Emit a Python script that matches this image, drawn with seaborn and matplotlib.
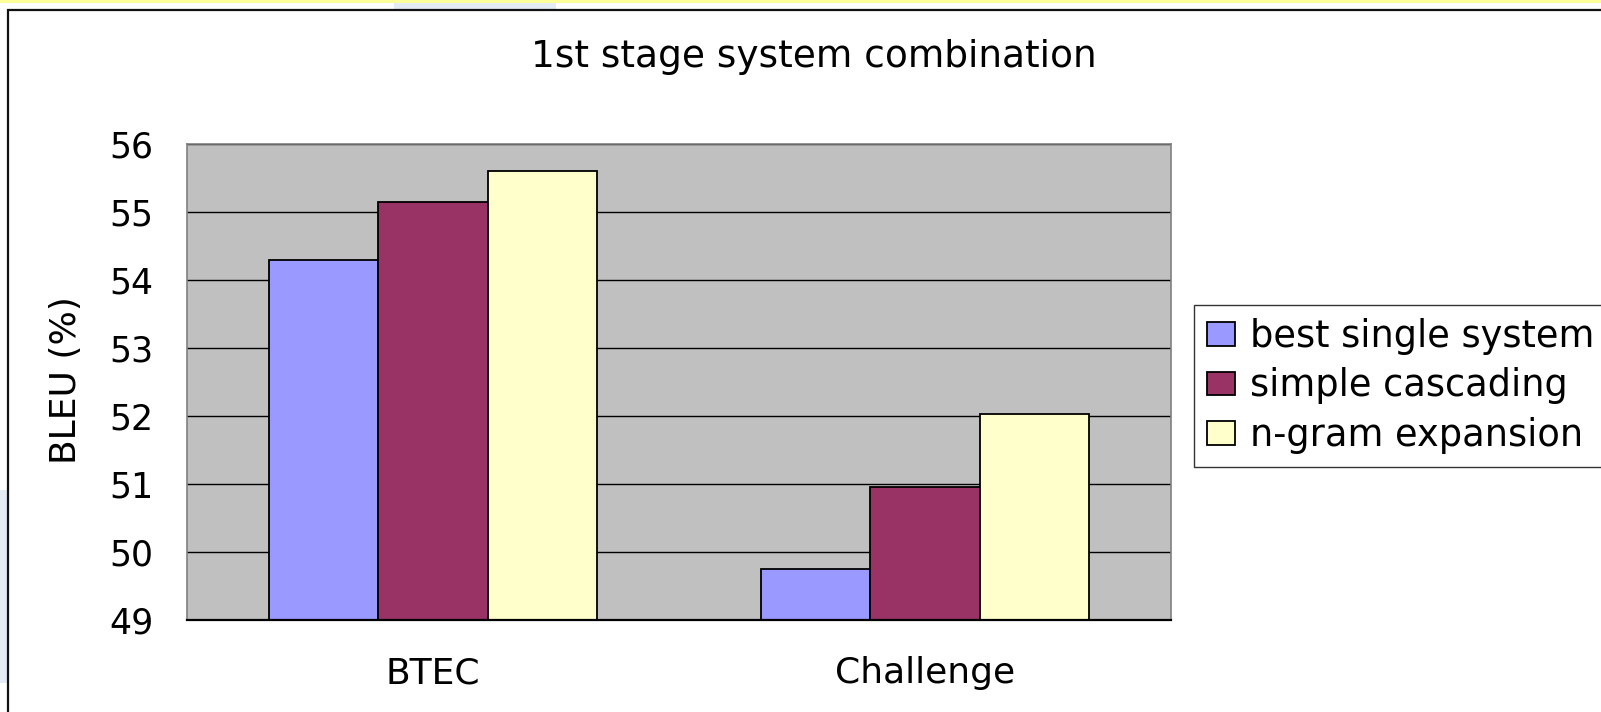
import matplotlib
matplotlib.use("Agg")
import matplotlib.pyplot as plt
import matplotlib.patches as mpatches
import seaborn as sns
import pandas as pd

categories = ["BTEC", "Challenge"]
systems = ["best single system", "simple cascading", "n-gram expansion"]
best_single = [54.3, 49.75]
simple_cascading = [55.15, 50.95]
ngram_expansion = [55.6, 52.03]
colors = ["#9999FF", "#993366", "#FFFFCC"]
title = "1st stage system combination"
ylabel = "BLEU (%)"
yticks = [49, 50, 51, 52, 53, 54, 55, 56]

rows = []
for sys_name, vals in zip(systems, [best_single, simple_cascading, ngram_expansion]):
    for c, v in zip(categories, vals):
        rows.append({"category": c, "system": sys_name, "value": v})
df = pd.DataFrame(rows)

sns.set_theme(style="white")
plt.rcParams["font.family"] = ["DejaVu Sans"]

W, H = 1601, 712
fig = plt.figure(figsize=(W / 100, H / 100), dpi=100)
fig.patch.set_facecolor("white")

# background decorations
fig.patches.append(mpatches.Rectangle((0, 1 - 3 / H), 1, 3 / H, transform=fig.transFigure,
                                      facecolor="#FFFF99", edgecolor="none", zorder=0))
fig.patches.append(mpatches.Rectangle((394 / W, 1 - 10 / H), (556 - 394) / W, 7 / H,
                                      transform=fig.transFigure, facecolor="#E4EBF3",
                                      edgecolor="none", zorder=0))
fig.patches.append(mpatches.Rectangle((0, 1 - 683 / H), 7 / W, (683 - 490) / H,
                                      transform=fig.transFigure, facecolor="#E4EBF3",
                                      edgecolor="none", zorder=0))
# chart frame
fig.patches.append(mpatches.Rectangle((8 / W, -0.1), 1.2, 1.1 - 10 / H, transform=fig.transFigure,
                                      facecolor="none", edgecolor="#111111", linewidth=1.6,
                                      zorder=1))

ax = fig.add_axes([187 / W, 1 - 620 / H, (1171 - 187) / W, (620 - 144) / H])
sns.barplot(data=df, x="category", y="value", hue="system", order=categories,
            hue_order=systems, palette=colors, width=0.667, gap=0,
            edgecolor="black", linewidth=1.3, saturation=1, errorbar=None, ax=ax,
            legend=True)

ax.set_facecolor("#C0C0C0")
ax.set_ylim(49, 56)
ax.set_xlim(-0.5, 1.5)
ax.set_yticks(yticks)
ax.set_yticklabels([str(t) for t in yticks])
ax.yaxis.grid(True, color="black", linewidth=1.0)
ax.xaxis.grid(False)
ax.set_axisbelow(True)

for s in ["left", "top", "right"]:
    ax.spines[s].set_color("#808080")
    ax.spines[s].set_linewidth(1.2)
    ax.spines[s].set_visible(True)
ax.spines["bottom"].set_color("black")
ax.spines["bottom"].set_linewidth(1.6)

ax.tick_params(axis="y", length=0, pad=24, labelsize=25, colors="black")
ax.tick_params(axis="x", which="major", length=0, pad=26, labelsize=26, colors="black")
ax.set_xticks([0.5], minor=True)
ax.tick_params(axis="x", which="minor", direction="in", length=8, width=1.2, color="#707070")

ax.set_xlabel("")
ax.set_ylabel(ylabel, fontsize=26, color="black")
ax.yaxis.set_label_coords(-0.106, 0.504)

fig.text(814 / W, 1 - 67 / H, title, ha="center", va="baseline", fontsize=27, color="black")

handles, labels = ax.get_legend_handles_labels()
ax.get_legend().remove()
leg = fig.legend(handles, labels, loc="upper left",
                 bbox_to_anchor=(1194 / W, 1 - 305 / H), bbox_transform=fig.transFigure,
                 borderaxespad=0, fontsize=26.5, frameon=True, fancybox=False, shadow=False,
                 handlelength=0.75, handleheight=0.62, handletextpad=0.4,
                 borderpad=0.36, labelspacing=0.33)
leg.get_frame().set_edgecolor("black")
leg.get_frame().set_linewidth(1.0)
leg.get_frame().set_facecolor("white")
for t in leg.get_texts():
    t.set_color("black")

fig.savefig("out.png", dpi=100, facecolor="white")
